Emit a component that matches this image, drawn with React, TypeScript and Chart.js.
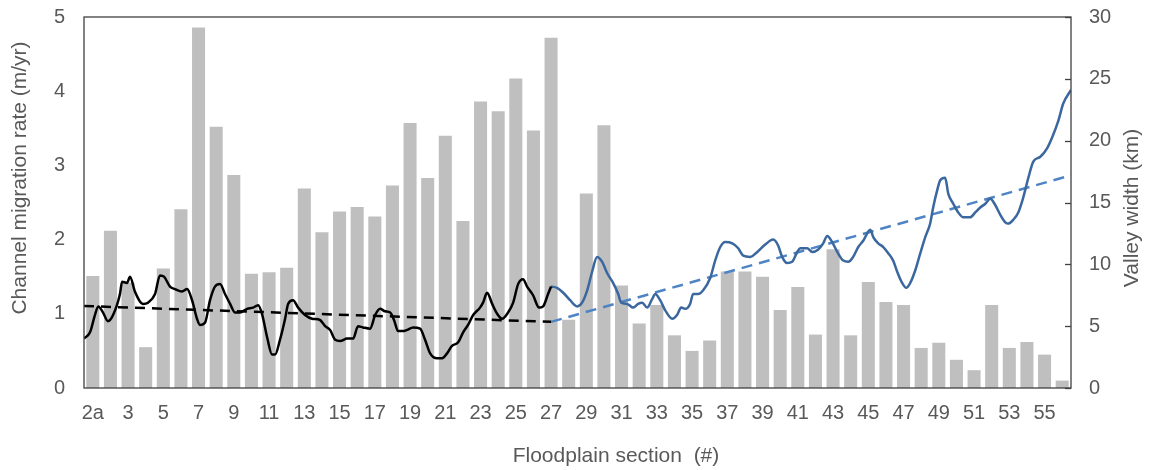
import React, { useEffect, useRef } from 'react';
import { Chart, registerables } from 'chart.js';

Chart.register(...registerables);

// Floodplain sections (category axis)
const sections = [
  '2a', '2b', '3', '4', '5', '6', '7', '8', '9', '10', '11', '12', '13', '14', '15', '16', '17', '18', '19', '20',
  '21', '22', '23', '24', '25', '26', '27', '28', '29', '30', '31', '32', '33', '34', '35', '36', '37', '38', '39', '40',
  '41', '42', '43', '44', '45', '46', '47', '48', '49', '50', '51', '52', '53', '54', '55', '56',
];

// Channel migration rate (m/yr), one bar per section
const migrationRate = [
  1.51, 2.12, 1.42, 0.55, 1.61, 2.41, 4.86, 3.52, 2.87, 1.54, 1.56, 1.62, 2.69, 2.10, 2.38, 2.44, 2.31, 2.73, 3.57, 2.83,
  3.40, 2.25, 3.86, 3.73, 4.17, 3.47, 4.72, 0.92, 2.62, 3.54, 1.38, 0.87, 1.12, 0.71, 0.50, 0.64, 1.57, 1.57, 1.50, 1.05,
  1.36, 0.72, 1.87, 0.71, 1.43, 1.16, 1.12, 0.54, 0.61, 0.38, 0.24, 1.12, 0.54, 0.62, 0.45, 0.10,
];

// Valley width (km) along the floodplain, upstream part (black) — position in section units
const blackPos = [
  0.0, 0.34, 0.62, 0.81, 1.08, 1.36, 1.65, 2.04, 2.16, 2.44, 2.61, 2.89, 3.35, 3.63, 4.03, 4.31, 4.54, 4.88, 5.16, 5.56,
  5.85, 6.13, 6.41, 6.58, 6.87, 7.15, 7.43, 7.72, 8.0, 8.29, 8.57, 8.85, 9.25, 9.59, 9.88, 10.1, 10.39, 10.67, 10.84, 11.12,
  11.41, 11.58, 11.86, 12.15, 12.54, 12.94, 13.39, 13.68, 13.96, 14.25, 14.53, 14.93, 15.27, 15.55, 15.83, 16.23, 16.52, 16.8, 17.08, 17.37,
  17.59, 17.82, 18.1, 18.33, 18.67, 19.07, 19.35, 19.64, 20.03, 20.32, 20.6, 20.88, 21.23, 21.51, 21.79, 22.08, 22.47, 22.64, 22.87, 23.16,
  23.44, 23.72, 24.06, 24.35, 24.63, 24.91, 25.14, 25.48, 25.82, 26.05, 26.33, 26.5,
];
const blackWidth = [
  4.0, 4.5, 5.9, 6.6, 6.1, 5.4, 5.9, 7.6, 8.6, 8.5, 9.0, 7.8, 6.8, 6.9, 7.6, 9.1, 9.0, 8.2, 8.0, 7.8,
  8.0, 7.1, 5.6, 5.1, 5.3, 7.1, 8.2, 8.4, 7.6, 6.8, 6.1, 6.1, 6.4, 6.5, 6.7, 6.0, 4.1, 2.7, 2.7, 3.9,
  5.6, 6.8, 7.1, 6.5, 5.9, 5.6, 5.5, 5.0, 4.7, 3.9, 3.8, 4.0, 4.0, 5.0, 4.9, 4.8, 5.9, 6.4, 6.2, 6.1,
  5.5, 4.6, 4.6, 4.7, 4.9, 4.8, 3.9, 2.8, 2.4, 2.4, 2.8, 3.4, 3.7, 4.5, 5.1, 5.9, 6.5, 6.9, 7.7, 6.8,
  6.0, 5.6, 6.1, 6.9, 8.4, 8.8, 8.2, 7.5, 6.5, 6.6, 7.6, 8.2,
];

// Valley width (km), downstream part (blue)
const bluePos = [
  26.5, 26.84, 27.19, 27.58, 27.98, 28.26, 28.55, 28.83, 29.11, 29.4, 29.68, 30.02, 30.31, 30.48, 30.82, 31.16, 31.44, 31.67, 31.95, 32.24,
  32.41, 32.69, 32.97, 33.37, 33.65, 33.88, 34.11, 34.39, 34.56, 34.85, 35.13, 35.53, 35.81, 36.1, 36.38, 36.78, 37.12, 37.4, 37.8, 38.2,
  38.65, 39.1, 39.39, 39.61, 39.9, 40.18, 40.47, 40.64, 41.03, 41.32, 41.66, 41.94, 42.17, 42.45, 42.74, 43.08, 43.36, 43.64, 43.93, 44.21,
  44.61, 44.78, 45.06, 45.35, 45.63, 45.91, 46.14, 46.42, 46.65, 46.88, 47.16, 47.45, 47.73, 48.01, 48.18, 48.41, 48.58, 48.86, 49.04, 49.32,
  49.6, 49.89, 50.28, 50.57, 50.85, 51.14, 51.42, 51.7, 51.99, 52.27, 52.44, 52.72, 53.01, 53.29, 53.58, 53.86, 54.26, 54.65, 54.94, 55.28,
  55.56, 56.0,
];
const blueWidth = [
  8.2, 8.1, 7.7, 7.1, 6.6, 6.9, 7.9, 9.4, 10.6, 10.2, 9.3, 8.5, 7.6, 6.9, 6.8, 6.5, 6.8, 6.9, 6.5, 7.2,
  7.6, 7.1, 6.3, 5.6, 5.9, 6.5, 6.4, 6.8, 7.6, 7.6, 7.9, 8.9, 10.3, 11.4, 11.8, 11.7, 11.3, 10.7, 10.6, 11.0,
  11.6, 12.0, 11.5, 10.6, 10.1, 10.2, 11.0, 11.3, 11.3, 11.0, 11.2, 11.7, 12.3, 11.8, 11.0, 10.3, 10.2, 10.6, 11.4, 11.9,
  12.8, 12.2, 11.7, 11.4, 10.9, 10.3, 9.4, 8.5, 8.1, 8.5, 9.5, 10.9, 12.2, 13.3, 14.6, 16.0, 16.8, 17.0, 15.7, 14.9,
  14.2, 13.8, 13.8, 14.2, 14.6, 14.9, 15.3, 14.8, 14.0, 13.4, 13.3, 13.6, 14.2, 15.4, 17.0, 18.3, 18.7, 19.4, 20.3, 21.6,
  23.0, 24.1,
];

// Linear trends of valley width
const blackTrendPos = [0, 26.5];
const blackTrend = [6.63, 5.35];
const blueTrendPos = [26.5, 56];
const blueTrend = [5.35, 17.2];

const yLeftTitle = 'Channel migration rate (m/yr)';
const yRightTitle = 'Valley width (km)';
const xTitle = 'Floodplain section  (#)';

const FONT = '"Liberation Sans", Arial, sans-serif';
const TEXT = '#595959';

const pairs = (xs: number[], ys: number[]) => xs.map((x, i) => ({ x, y: ys[i] }));

const framePlugin = {
  id: 'frameAndTitles',
  afterDatasetsDraw(chart: any) {
    const { ctx, chartArea: a, scales } = chart;
    ctx.save();
    ctx.strokeStyle = '#404040';
    ctx.lineWidth = 1.3;
    ctx.strokeRect(a.left, a.top, a.right - a.left, a.bottom - a.top);
    const y2 = scales.y2;
    y2.ticks.forEach((t: any) => {
      const py = Math.round(y2.getPixelForValue(t.value)) + 0.5;
      ctx.beginPath();
      ctx.moveTo(a.right - 6, py);
      ctx.lineTo(a.right, py);
      ctx.stroke();
    });
    ctx.fillStyle = TEXT;
    ctx.font = `21px ${FONT}`;
    ctx.textAlign = 'center';
    ctx.textBaseline = 'middle';
    ctx.fillText(xTitle, a.left + (a.right - a.left) * 0.539, a.bottom + 68);
    ctx.save();
    ctx.translate(a.left - 64, a.top + 161);
    ctx.rotate(-Math.PI / 2);
    ctx.fillText(yLeftTitle, 0, 0);
    ctx.restore();
    ctx.save();
    ctx.translate(a.right + 61, a.top + 191);
    ctx.rotate(-Math.PI / 2);
    ctx.fillText(yRightTitle, 0, 0);
    ctx.restore();
    ctx.restore();
  },
};

const lineStyle = {
  type: 'line' as const,
  xAxisID: 'xl',
  yAxisID: 'y2',
  pointRadius: 0,
  fill: false,
};

export default function App() {
  const ref = useRef<HTMLCanvasElement | null>(null);

  useEffect(() => {
    document.body.style.margin = '0';
    if (!ref.current) return;
    const chart = new Chart(ref.current, {
      type: 'line',
      data: {
        labels: sections,
        datasets: [
          {
            ...lineStyle,
            data: pairs(blackPos, blackWidth) as any,
            borderColor: '#000000',
            borderWidth: 2.5,
            cubicInterpolationMode: 'monotone',
          },
          {
            ...lineStyle,
            data: pairs(bluePos, blueWidth) as any,
            borderColor: '#3B679F',
            borderWidth: 2.5,
            cubicInterpolationMode: 'monotone',
          },
          {
            ...lineStyle,
            data: pairs(blackTrendPos, blackTrend) as any,
            borderColor: '#000000',
            borderWidth: 2.5,
            borderDash: [10, 7],
          },
          {
            ...lineStyle,
            data: pairs(blueTrendPos, blueTrend) as any,
            borderColor: '#4F84C4',
            borderWidth: 2.5,
            borderDash: [11, 7],
          },
          {
            type: 'bar',
            data: migrationRate,
            xAxisID: 'x',
            yAxisID: 'y',
            backgroundColor: '#BFBFBF',
            barPercentage: 0.74,
            categoryPercentage: 1,
            grouped: false,
            order: 10,
          } as any,
        ],
      },
      options: {
        animation: false,
        responsive: true,
        maintainAspectRatio: false,
        layout: { padding: { top: 17, left: 0, right: 0, bottom: 0 } },
        plugins: { legend: { display: false }, tooltip: { enabled: false } },
        scales: {
          x: {
            type: 'category',
            offset: true,
            grid: { display: false, drawTicks: false, offset: true },
            border: { display: false },
            ticks: {
              color: TEXT,
              font: { size: 20, family: FONT },
              autoSkip: false,
              maxRotation: 0,
              minRotation: 0,
              padding: 13,
              callback: (_v: any, i: number) => (i % 2 === 0 ? sections[i] : ''),
            },
            afterFit: (s: any) => { s.height = 82; },
          },
          xl: {
            type: 'linear',
            min: 0,
            max: 56,
            offset: false,
            display: false,
          },
          y: {
            position: 'left',
            min: 0,
            max: 5,
            grid: { display: false, drawTicks: true, tickLength: 19 },
            border: { display: false },
            ticks: { stepSize: 1, color: TEXT, font: { size: 20, family: FONT }, padding: 0 },
            afterFit: (s: any) => { s.width = 84; },
          },
          y2: {
            position: 'right',
            min: 0,
            max: 30,
            grid: { display: false, drawTicks: true, tickLength: 18 },
            border: { display: false },
            ticks: { stepSize: 5, color: TEXT, font: { size: 20, family: FONT }, padding: 0 },
            afterFit: (s: any) => { s.width = 78; },
          },
        },
      },
      plugins: [framePlugin],
    });
    return () => chart.destroy();
  }, []);

  return (
    <div style={{ width: 1149, height: 470, position: 'relative', overflow: 'hidden' }}>
      <canvas ref={ref} />
    </div>
  );
}
